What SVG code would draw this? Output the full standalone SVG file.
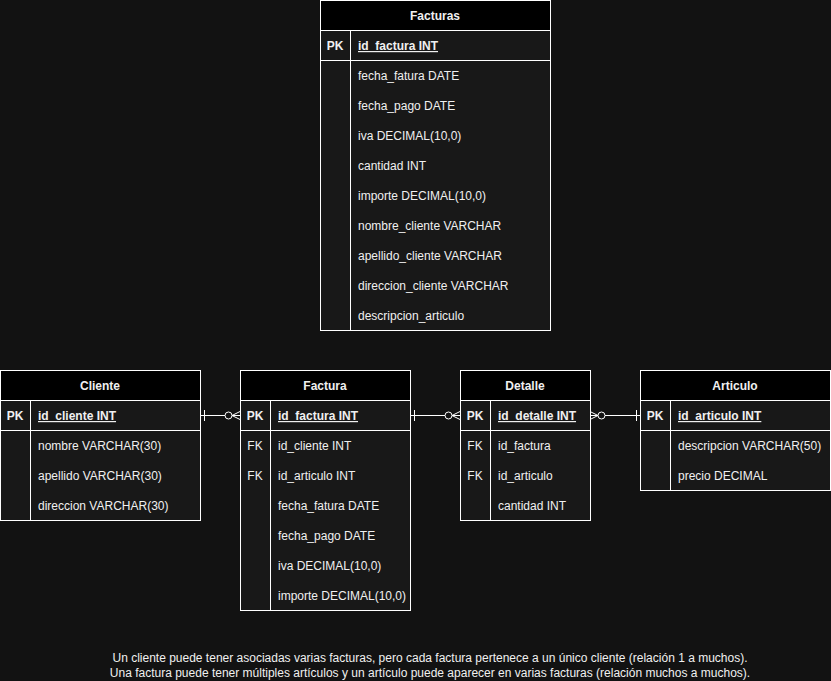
<svg xmlns="http://www.w3.org/2000/svg" width="831" height="681" viewBox="0 0 831 681">
<defs>
<style>
.bg{fill:#121212}
.hdr{fill:#000;stroke:#fff;stroke-width:1}
.body{fill:#181818;stroke:#fff;stroke-width:1}
.ln{stroke:#fff;stroke-width:1;fill:none}
text{font-family:"Liberation Sans",Arial,Helvetica,sans-serif;font-size:12px;fill:#f0f0f0}
.t{font-weight:bold;text-anchor:middle}
.k{font-weight:bold;text-anchor:middle}
.pk{font-weight:bold;text-decoration:underline}
.fk{text-anchor:middle}
.note{text-anchor:middle}
.c{stroke:#fff;stroke-width:1;fill:none}
.cc{stroke:#fff;stroke-width:1;fill:#121212}
</style>
</defs>
<rect class="bg" x="0" y="0" width="831" height="681"/>

<g id="Facturas">
<rect class="body" x="320.5" y="0.5" width="230" height="330"/>
<rect class="hdr" x="320.5" y="0.5" width="230" height="30"/>
<line class="ln" x1="320.5" y1="60.5" x2="550.5" y2="60.5"/>
<line class="ln" x1="350.5" y1="30.5" x2="350.5" y2="330.5"/>
<text class="t" x="435" y="20">Facturas</text>
<text class="k" x="335" y="50">PK</text>
<text class="pk" x="358" y="50">id_factura INT</text>
<text x="358" y="80">fecha_fatura DATE</text>
<text x="358" y="110">fecha_pago DATE</text>
<text x="358" y="140">iva DECIMAL(10,0)</text>
<text x="358" y="170">cantidad INT</text>
<text x="358" y="200">importe DECIMAL(10,0)</text>
<text x="358" y="230">nombre_cliente VARCHAR</text>
<text x="358" y="260">apellido_cliente VARCHAR</text>
<text x="358" y="290">direccion_cliente VARCHAR</text>
<text x="358" y="320">descripcion_articulo</text>
</g>

<g id="Cliente">
<rect class="body" x="0.5" y="370.5" width="200" height="150"/>
<rect class="hdr" x="0.5" y="370.5" width="200" height="30"/>
<line class="ln" x1="0.5" y1="430.5" x2="200.5" y2="430.5"/>
<line class="ln" x1="30.5" y1="400.5" x2="30.5" y2="520.5"/>
<text class="t" x="100" y="390">Cliente</text>
<text class="k" x="15" y="420">PK</text>
<text class="pk" x="38" y="420">id_cliente INT</text>
<text x="38" y="450">nombre VARCHAR(30)</text>
<text x="38" y="480">apellido VARCHAR(30)</text>
<text x="38" y="510">direccion VARCHAR(30)</text>
</g>

<g id="Factura">
<rect class="body" x="240.5" y="370.5" width="170" height="240"/>
<rect class="hdr" x="240.5" y="370.5" width="170" height="30"/>
<line class="ln" x1="240.5" y1="430.5" x2="410.5" y2="430.5"/>
<line class="ln" x1="270.5" y1="400.5" x2="270.5" y2="610.5"/>
<text class="t" x="325" y="390">Factura</text>
<text class="k" x="255" y="420">PK</text>
<text class="pk" x="278" y="420">id_factura INT</text>
<text class="fk" x="255" y="450">FK</text>
<text x="278" y="450">id_cliente INT</text>
<text class="fk" x="255" y="480">FK</text>
<text x="278" y="480">id_articulo INT</text>
<text x="278" y="510">fecha_fatura DATE</text>
<text x="278" y="540">fecha_pago DATE</text>
<text x="278" y="570">iva DECIMAL(10,0)</text>
<text x="278" y="600">importe DECIMAL(10,0)</text>
</g>

<g id="Detalle">
<rect class="body" x="460.5" y="370.5" width="130" height="150"/>
<rect class="hdr" x="460.5" y="370.5" width="130" height="30"/>
<line class="ln" x1="460.5" y1="430.5" x2="590.5" y2="430.5"/>
<line class="ln" x1="490.5" y1="400.5" x2="490.5" y2="520.5"/>
<text class="t" x="525" y="390">Detalle</text>
<text class="k" x="475" y="420">PK</text>
<text class="pk" x="498" y="420">id_detalle INT</text>
<text class="fk" x="475" y="450">FK</text>
<text x="498" y="450">id_factura</text>
<text class="fk" x="475" y="480">FK</text>
<text x="498" y="480">id_articulo</text>
<text x="498" y="510">cantidad INT</text>
</g>

<g id="Articulo">
<rect class="body" x="640.5" y="370.5" width="190" height="120"/>
<rect class="hdr" x="640.5" y="370.5" width="190" height="30"/>
<line class="ln" x1="640.5" y1="430.5" x2="830.5" y2="430.5"/>
<line class="ln" x1="670.5" y1="400.5" x2="670.5" y2="490.5"/>
<text class="t" x="735" y="390">Articulo</text>
<text class="k" x="655" y="420">PK</text>
<text class="pk" x="678" y="420">id_articulo INT</text>
<text x="678" y="450">descripcion VARCHAR(50)</text>
<text x="678" y="480">precio DECIMAL</text>
</g>

<g id="connectors">
<!-- Cliente -> Factura -->
<line class="c" x1="200" y1="415.5" x2="225" y2="415.5"/>
<line class="c" x1="204.5" y1="410" x2="204.5" y2="421"/>
<circle class="cc" cx="228.5" cy="415.5" r="3.5"/>
<path class="c" d="M232,415.5 L240,411.5 M232,415.5 L240,415.5 M232,415.5 L240,419.5"/>
<!-- Factura -> Detalle -->
<line class="c" x1="410" y1="415.5" x2="445" y2="415.5"/>
<line class="c" x1="414.5" y1="410" x2="414.5" y2="421"/>
<circle class="cc" cx="448.5" cy="415.5" r="3.5"/>
<path class="c" d="M452,415.5 L460,411.5 M452,415.5 L460,415.5 M452,415.5 L460,419.5"/>
<!-- Detalle -> Articulo -->
<path class="c" d="M598,415.5 L590,411.5 M598,415.5 L590,415.5 M598,415.5 L590,419.5"/>
<circle class="cc" cx="601.5" cy="415.5" r="3.5"/>
<line class="c" x1="605" y1="415.5" x2="640" y2="415.5"/>
<line class="c" x1="636.5" y1="410" x2="636.5" y2="421"/>
</g>

<g id="note">
<text class="note" x="430" y="662">Un cliente puede tener asociadas varias facturas, pero cada factura pertenece a un único cliente (relación 1 a muchos).</text>
<text class="note" x="430" y="677">Una factura puede tener múltiples artículos y un artículo puede aparecer en varias facturas (relación muchos a muchos).</text>
</g>
</svg>
